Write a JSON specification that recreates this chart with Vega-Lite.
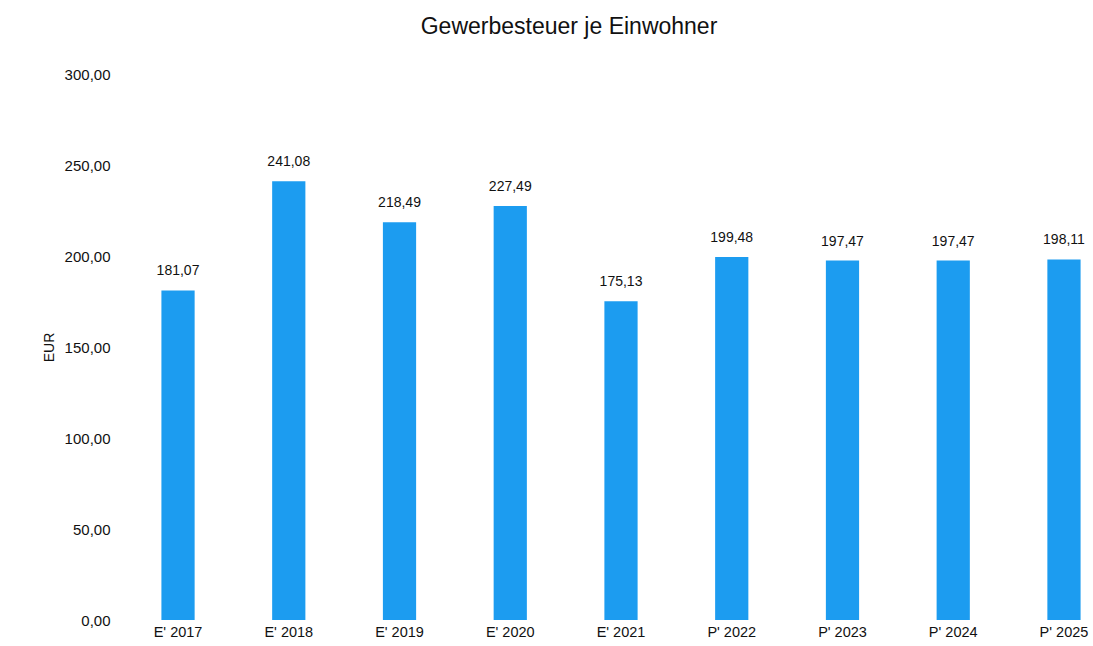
{
  "$schema": "https://vega.github.io/schema/vega-lite/v6.json",
  "autosize": "none",
  "width": 938,
  "height": 546,
  "padding": {"left": 152, "top": 74, "right": 3, "bottom": 26},
  "background": "white",
  "title": {
    "text": "Gewerbesteuer je Einwohner",
    "font": "Liberation Sans",
    "fontSize": 23,
    "fontWeight": "normal",
    "color": "#111111",
    "anchor": "middle",
    "dx": -52,
    "offset": 28
  },
  "config": {
    "locale": {
      "number": {"decimal": ",", "thousands": ".", "grouping": [3], "currency": ["", " €"]}
    },
    "view": {"stroke": null}
  },
  "data": {
    "values": [
      {"jahr": "E' 2017", "wert": 181.07},
      {"jahr": "E' 2018", "wert": 241.08},
      {"jahr": "E' 2019", "wert": 218.49},
      {"jahr": "E' 2020", "wert": 227.49},
      {"jahr": "E' 2021", "wert": 175.13},
      {"jahr": "P' 2022", "wert": 199.48},
      {"jahr": "P' 2023", "wert": 197.47},
      {"jahr": "P' 2024", "wert": 197.47},
      {"jahr": "P' 2025", "wert": 198.11}
    ]
  },
  "encoding": {
    "x": {
      "field": "jahr",
      "type": "nominal",
      "sort": null,
      "scale": {"paddingInner": 0.7, "paddingOuter": 0.085},
      "axis": {
        "title": null,
        "labelAngle": 0,
        "domain": false,
        "ticks": false,
        "labelPadding": 5,
        "labelFont": "Liberation Sans",
        "labelFontSize": 14.5,
        "labelColor": "#111111"
      }
    },
    "y": {
      "field": "wert",
      "type": "quantitative",
      "scale": {"domain": [0, 300], "nice": false},
      "axis": {
        "title": "EUR",
        "values": [0, 50, 100, 150, 200, 250, 300],
        "format": ".2f",
        "grid": false,
        "domain": false,
        "ticks": false,
        "labelPadding": 42,
        "labelFont": "Liberation Sans",
        "labelFontSize": 15,
        "labelColor": "#111111",
        "titleFont": "Liberation Sans",
        "titleFontSize": 14,
        "titleFontWeight": "normal",
        "titleColor": "#111111",
        "titlePadding": 8
      }
    }
  },
  "layer": [
    {"mark": {"type": "bar", "color": "#1C9CF0"}},
    {
      "mark": {"type": "text", "baseline": "bottom", "dy": -12, "font": "Liberation Sans", "fontSize": 14, "color": "#111111"},
      "encoding": {"text": {"field": "wert", "type": "quantitative", "format": ".2f"}}
    }
  ]
}
